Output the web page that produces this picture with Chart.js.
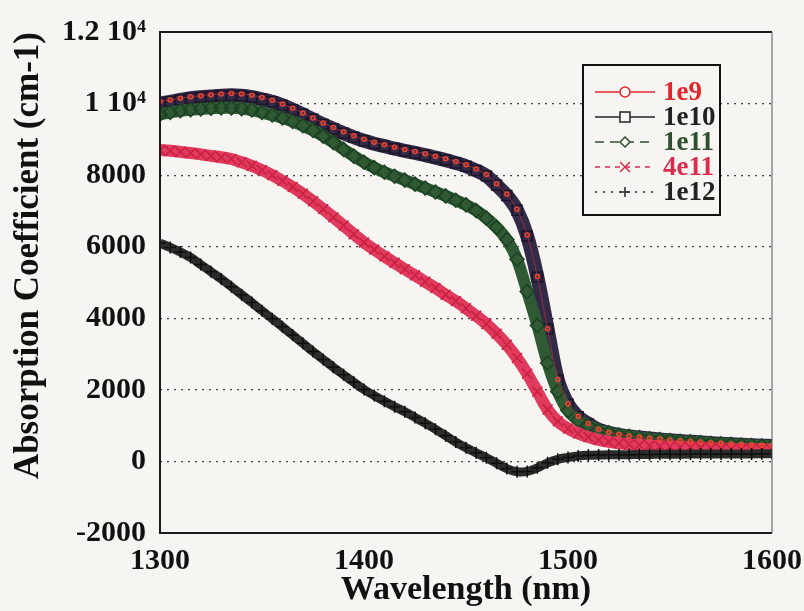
<!DOCTYPE html>
<html>
<head>
<meta charset="utf-8">
<script src="https://cdn.jsdelivr.net/npm/chart.js@4.4.1/dist/chart.umd.min.js"></script>
<style>
  html, body { margin: 0; padding: 0; background: #f6f5f1; }
  #wrap { width: 804px; height: 611px; }
</style>
</head>
<body>
<div id="wrap"><canvas id="absCanvas" width="804" height="611"></canvas></div>
<script>
// wavelength grid (nm), 5 nm step
const wavelengths = [
  1300, 1305, 1310, 1315, 1320, 1325, 1330, 1335, 1340, 1345,
  1350, 1355, 1360, 1365, 1370, 1375, 1380, 1385, 1390, 1395,
  1400, 1405, 1410, 1415, 1420, 1425, 1430, 1435, 1440, 1445,
  1450, 1455, 1460, 1465, 1470, 1475, 1480, 1485, 1490, 1495,
  1500, 1505, 1510, 1515, 1520, 1525, 1530, 1535, 1540, 1545,
  1550, 1555, 1560, 1565, 1570, 1575, 1580, 1585, 1590, 1595, 1600
];

// absorption coefficient (cm-1) per carrier density
const alpha1e9 = [
  10060, 10100, 10150, 10190, 10220, 10250, 10270, 10280, 10270, 10230,
  10170, 10090, 9990, 9870, 9740, 9600, 9460, 9330, 9210, 9100,
  9000, 8920, 8850, 8780, 8720, 8660, 8600, 8530, 8460, 8380,
  8290, 8170, 8020, 7760, 7470, 7050, 6330, 5170, 3710, 2290,
  1610, 1260, 1060, 900, 810, 750, 710, 680, 650, 625,
  600, 580, 560, 540, 520, 505, 490, 475, 460, 450, 440
];
const alpha1e10 = [
  10000, 10050, 10100, 10150, 10180, 10200, 10220, 10230, 10220, 10180,
  10120, 10050, 9950, 9830, 9700, 9560, 9420, 9290, 9170, 9060,
  8960, 8880, 8810, 8740, 8680, 8620, 8560, 8490, 8420, 8340,
  8250, 8130, 7980, 7720, 7430, 7020, 6300, 5150, 3700, 2280,
  1600, 1250, 1050, 890, 800, 740, 700, 670, 640, 615,
  590, 570, 550, 530, 510, 495, 480, 465, 450, 440, 430
];
const alpha1e11 = [
  9700, 9750, 9800, 9830, 9850, 9870, 9880, 9880, 9860, 9820,
  9750, 9680, 9600, 9500, 9380, 9250, 9090, 8910, 8720, 8530,
  8360, 8210, 8080, 7970, 7860, 7750, 7640, 7530, 7420, 7300,
  7170, 7010, 6800, 6540, 6200, 5650, 4750, 3800, 2750, 1950,
  1420, 1150, 1000, 880, 800, 740, 700, 665, 635, 610,
  585, 565, 545, 525, 505, 490, 475, 460, 445, 435, 425
];
const alpha4e11 = [
  8700, 8680, 8650, 8620, 8580, 8540, 8500, 8450, 8360, 8260,
  8140, 8000, 7840, 7670, 7480, 7270, 7050, 6820, 6590, 6350,
  6120, 5920, 5730, 5550, 5370, 5200, 5020, 4850, 4660, 4480,
  4280, 4070, 3840, 3570, 3260, 2890, 2450, 1950, 1450, 1120,
  920, 780, 680, 600, 550, 510, 480, 460, 440, 425,
  410, 400, 390, 380, 370, 360, 350, 345, 340, 335, 330
];
const alpha1e12 = [
  6100, 5980, 5850, 5700, 5500, 5300, 5100, 4880, 4660, 4440,
  4210, 3990, 3760, 3530, 3300, 3070, 2850, 2630, 2420, 2210,
  2010, 1840, 1680, 1530, 1390, 1230, 1070, 900, 720, 540,
  380, 240, 100, -50, -200, -290, -280, -180, -40, 60,
  110, 150, 170, 180, 185, 190, 190, 195, 195, 200,
  200, 200, 205, 205, 205, 210, 210, 210, 210, 215, 215
];

const seriesNames = ["1e9", "1e10", "1e11", "4e11", "1e12"];
const xTickValues = [1300, 1400, 1500, 1600];
const xTickLabels = ["1300", "1400", "1500", "1600"];
const yTickValues = [-2000, 0, 2000, 4000, 6000, 8000, 10000, 12000];
const yTickLabels = ["-2000", "0", "2000", "4000", "6000", "8000", "1 10\u2074", "1.2 10\u2074"];

const serif = "'Liberation Serif', 'Times New Roman', serif";
const paper = "#f6f5f1";

function pts(values) {
  return wavelengths.map((w, i) => ({ x: w, y: values[i] }));
}

// look of each series: line, marker, legend sample
const styles = [
  { line: "#a8303e", width: 0.8, marker: "circle", r: 2, mark: "#f0452e", text: "#e3262d", dash: [] },
  { line: "#332a48", width: 14, marker: "rect", r: 7, mark: "#1a1528", text: "#222222", dash: [] },
  { line: "#2f5a34", width: 12, marker: "rectRot", r: 7, mark: "#1d4022", text: "#2f5030", dash: [9, 6] },
  { line: "#e03a5c", width: 12, marker: "crossRot", r: 7, mark: "#c81f42", text: "#d92d50", dash: [5, 5] },
  { line: "#2c2c2c", width: 9, marker: "cross", r: 6, mark: "#0e0e0e", text: "#222222", dash: [2, 6] }
];
const allSeries = [alpha1e9, alpha1e10, alpha1e11, alpha4e11, alpha1e12];
const drawOrder = [0, 4, 3, 2, 1];

function drawMarker(ctx, kind, x, y, r) {
  ctx.beginPath();
  if (kind === "circle") {
    ctx.arc(x, y, r, 0, Math.PI * 2);
  } else if (kind === "rect") {
    ctx.rect(x - r, y - r, 2 * r, 2 * r);
  } else if (kind === "rectRot") {
    ctx.moveTo(x, y - r); ctx.lineTo(x + r, y); ctx.lineTo(x, y + r); ctx.lineTo(x - r, y); ctx.closePath();
  } else if (kind === "crossRot") {
    ctx.moveTo(x - r, y - r); ctx.lineTo(x + r, y + r); ctx.moveTo(x + r, y - r); ctx.lineTo(x - r, y + r);
  } else {
    ctx.moveTo(x - r, y); ctx.lineTo(x + r, y); ctx.moveTo(x, y - r); ctx.lineTo(x, y + r);
  }
  if (kind !== "crossRot" && kind !== "cross") {
    ctx.fillStyle = paper;
    ctx.fill();
  }
  ctx.stroke();
}

const paperPlugin = {
  id: "paper",
  beforeDraw(chart) {
    const ctx = chart.ctx;
    ctx.save();
    ctx.fillStyle = paper;
    ctx.fillRect(0, 0, chart.width, chart.height);
    ctx.restore();
  },
  afterDraw(chart) {
    const ctx = chart.ctx;
    const a = chart.chartArea;
    ctx.save();
    ctx.strokeStyle = "#1a1a1a";
    ctx.lineWidth = 2;
    ctx.beginPath();
    ctx.moveTo(a.right, a.top); ctx.lineTo(a.left, a.top); ctx.lineTo(a.left, a.bottom); ctx.lineTo(a.right, a.bottom);
    ctx.stroke();
    ctx.strokeStyle = "#555";
    ctx.lineWidth = 1;
    ctx.beginPath();
    ctx.moveTo(a.right, a.top); ctx.lineTo(a.right, a.bottom);
    ctx.stroke();

    // legend box
    const bx = 583, by = 65, bw = 137, bh = 150;
    ctx.fillStyle = paper;
    ctx.fillRect(bx, by, bw, bh);
    ctx.strokeStyle = "#111";
    ctx.lineWidth = 2;
    ctx.strokeRect(bx, by, bw, bh);
    ctx.font = "bold 27px " + serif;
    ctx.textBaseline = "middle";
    seriesNames.forEach((name, i) => {
      const s = styles[i];
      const y = by + 27 + i * 25;
      ctx.strokeStyle = s.text;
      ctx.lineWidth = 1.5;
      ctx.setLineDash(s.dash);
      ctx.beginPath();
      ctx.moveTo(bx + 12, y); ctx.lineTo(bx + 72, y);
      ctx.stroke();
      ctx.setLineDash([]);
      drawMarker(ctx, s.marker, bx + 42, y, 5);
      ctx.fillStyle = s.text;
      ctx.fillText(name, bx + 80, y + 1);
    });
    ctx.restore();
  }
};

const datasets = drawOrder.map((idx) => {
  const s = styles[idx];
  return {
    label: seriesNames[idx],
    data: pts(allSeries[idx]),
    borderColor: s.line,
    borderWidth: s.width,
    backgroundColor: "rgba(0,0,0,0)",
    pointStyle: s.marker,
    pointRadius: s.r,
    pointBorderWidth: 1.5,
    pointBorderColor: s.mark,
    pointBackgroundColor: "rgba(0,0,0,0)",
    tension: 0.3,
    fill: false,
    order: idx === 0 ? 0 : 5 - idx
  };
});

const chartConfig = {
  type: "line",
  data: { datasets: datasets },
  options: {
    responsive: false,
    animation: false,
    layout: { padding: { top: 30, right: 32, left: 0, bottom: 0 } },
    plugins: { legend: { display: false }, tooltip: { enabled: false } },
    scales: {
      x: {
        type: "linear",
        min: 1300,
        max: 1600,
        afterFit: (s) => { s.height = 78; },
        afterBuildTicks: (s) => { s.ticks = xTickValues.map((v) => ({ value: v })); },
        ticks: {
          padding: 2,
          color: "#111",
          font: { family: serif, size: 30, weight: "bold" },
          maxRotation: 0,
          callback: (v) => xTickLabels[xTickValues.indexOf(v)]
        },
        grid: { display: false },
        border: { display: false },
        title: {
          display: true,
          text: "Wavelength (nm)",
          color: "#111",
          font: { family: serif, size: 34, weight: "bold" },
          padding: { top: 0, bottom: 0 }
        }
      },
      y: {
        min: -2000,
        max: 12000,
        afterFit: (s) => { s.width = 160; },
        afterBuildTicks: (s) => { s.ticks = yTickValues.map((v) => ({ value: v })); },
        ticks: {
          padding: 14,
          color: "#111",
          font: { family: serif, size: 30, weight: "bold" },
          callback: (v) => yTickLabels[yTickValues.indexOf(v)]
        },
        grid: {
          drawTicks: false,
          lineWidth: 1.2,
          color: (c) => (c.tick && (c.tick.value === -2000 || c.tick.value === 12000)) ? "rgba(0,0,0,0)" : "#444"
        },
        border: { display: false, dash: [2, 5] },
        title: {
          display: true,
          align: "end",
          text: "Absorption Coefficient (cm-1)",
          color: "#111",
          font: { family: serif, size: 35, weight: "bold" },
          padding: { top: 8, bottom: 0 }
        }
      }
    }
  },
  plugins: [paperPlugin]
};

window.chart = new Chart(document.getElementById("absCanvas").getContext("2d"), chartConfig);
</script>
</body>
</html>
